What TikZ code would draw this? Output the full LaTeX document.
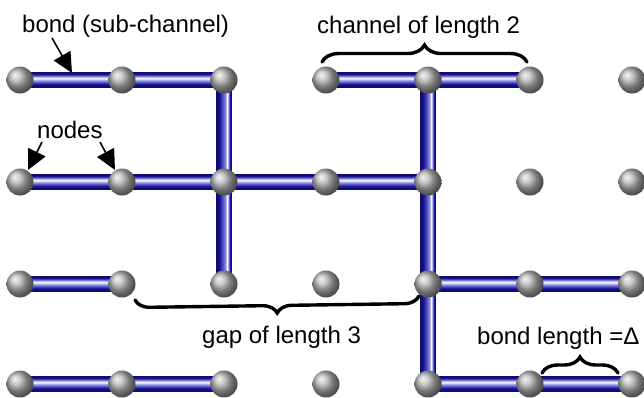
\documentclass[tikz,border=0pt]{standalone}
\usepackage{fontspec}
\setmainfont{Liberation Sans}
\usetikzlibrary{arrows.meta,decorations.pathreplacing,calc}
\definecolor{bdark}{HTML}{120C70}
\definecolor{bmid}{HTML}{2424B0}
\definecolor{blight}{HTML}{9090E4}
\pgfdeclareverticalshading{bondh}{100bp}{color(0bp)=(bdark); color(25bp)=(bdark); color(32bp)=(bdark); color(38bp)=(bmid); color(48bp)=(blight); color(56bp)=(white); color(62bp)=(blight); color(68bp)=(bmid); color(72bp)=(bdark); color(75bp)=(bdark); color(100bp)=(bdark)}
\pgfdeclarehorizontalshading{bondv}{100bp}{color(0bp)=(bdark); color(25bp)=(bdark); color(31bp)=(bdark); color(38bp)=(bmid); color(47bp)=(bmid!50!blight); color(55bp)=(blight); color(60bp)=(white); color(65bp)=(blight); color(69bp)=(bmid); color(72bp)=(bdark); color(75bp)=(bdark); color(100bp)=(bdark)}
\newcommand\hbond[2]{\shade[shading=bondh] ($(#1)+(0,-7.5)$) rectangle ($(#2)+(0,7.5)$);}
\newcommand\vbond[2]{\shade[shading=bondv] ($(#1)+(-7.5,0)$) rectangle ($(#2)+(7.5,0)$);}
\begin{document}
\begin{tikzpicture}[x=1pt,y=-1pt,
  ball/.style={circle,minimum size=27pt,inner sep=0pt,shading=ball,ball color=gray!60},
  lbl/.style={font=\fontsize{24}{28}\selectfont,inner sep=0pt,anchor=base west},
  arr/.style={line width=1.6pt,-{Triangle[length=20pt,width=19pt]}},
  brc/.style={decorate,decoration={brace,amplitude=#1},line width=3.4pt,line cap=round}]
\useasboundingbox (0,0) rectangle (644,397);
% grid positions
\foreach \c/\x in {0/20,1/122,2/224,3/326,4/428,5/530,6/632}{
  \foreach \r/\y in {0/80,1/182,2/284,3/384}{
    \coordinate (p\c\r) at (\x,\y);
  }
}
% horizontal bonds
\hbond{p00}{p10}\hbond{p10}{p20}\hbond{p30}{p40}\hbond{p40}{p50}
\hbond{p01}{p11}\hbond{p11}{p21}\hbond{p21}{p31}\hbond{p31}{p41}
\hbond{p02}{p12}\hbond{p42}{p52}\hbond{p52}{p62}
\hbond{p03}{p13}\hbond{p13}{p23}\hbond{p43}{p53}\hbond{p53}{p63}
% vertical bonds
\vbond{p20}{p21}\vbond{p21}{p22}
\vbond{p40}{p41}\vbond{p41}{p42}\vbond{p42}{p43}
% spheres
\foreach \c in {0,...,6}{
  \foreach \r in {0,...,3}{
    \node[ball] (n\c\r) at (p\c\r) {};
  }
}
% labels
\node[lbl] (tbond) at (22,32) {bond (sub-channel)};
\node[lbl] (tchan) at (317,33) {channel of length 2};
\node[lbl] (tnodes) at (37,138) {nodes};
\node[lbl] (tgap) at (202,343) {gap of length 3};
\node[lbl] (tblen) at (477,344) {bond length =Δ};
% arrows
\coordinate (a1s) at (52,38);  \coordinate (a1e) at (72,73);
\coordinate (a2s) at (42,142); \coordinate (a2e) at (28,170);
\coordinate (a3s) at (100,142);\coordinate (a3e) at (115,170);
\draw[arr] (a1s) -- (a1e);
\draw[arr] (a2s) -- (a2e);
\draw[arr] (a3s) -- (a3e);
% braces
\coordinate (b1a) at (322,62);  \coordinate (b1b) at (527,62);
\coordinate (b2a) at (419,296); \coordinate (b2b) at (135,300);
\coordinate (b3a) at (542,373); \coordinate (b3b) at (618,373);
\draw[brc=17] (b1a) -- (b1b);
\draw[brc=15] (b2a) -- (b2b);
\draw[brc=16] (b3a) -- (b3b);
\end{tikzpicture}
\end{document}
